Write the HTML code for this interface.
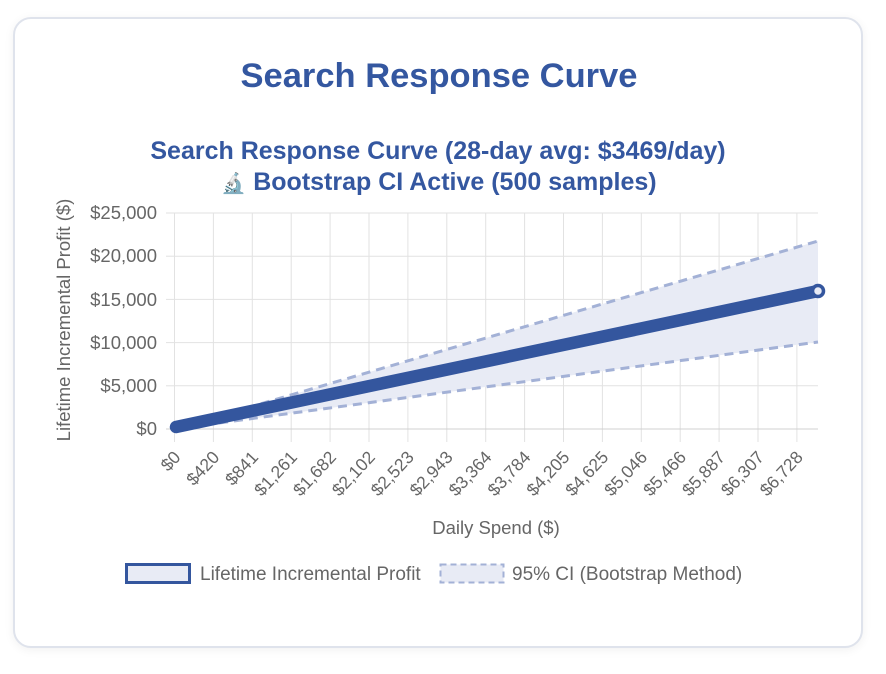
<!DOCTYPE html>
<html><head><meta charset="utf-8"><style>
html,body{margin:0;padding:0;background:#fff;width:886px;height:674px;overflow:hidden}
.card{position:absolute;left:13px;top:17px;width:846px;height:627px;border:2px solid #dfe3ec;border-radius:18px;box-shadow:0 2px 10px rgba(0,0,0,0.06);background:#fff}
svg{position:absolute;left:0;top:0}
text{font-family:"Liberation Sans",Arial,sans-serif}
</style></head><body>
<div class="card"></div>
<svg width="886" height="674" viewBox="0 0 886 674">
<text x="439" y="87" text-anchor="middle" font-size="34.5" font-weight="bold" fill="#3457a0">Search Response Curve</text>
<text x="438" y="159" text-anchor="middle" font-size="25" font-weight="bold" fill="#3457a0">Search Response Curve (28-day avg: $3469/day)</text>
<text x="439" y="190" text-anchor="middle" font-size="25" font-weight="bold" fill="#3457a0"><tspan font-family="'Noto Sans CJK JP',sans-serif" font-size="20">🔬</tspan>  Bootstrap CI Active (500 samples)</text>
<g stroke="#e2e2e2" stroke-width="1">
<line x1="174" y1="213" x2="818" y2="213"/><line x1="174" y1="256.2" x2="818" y2="256.2"/><line x1="174" y1="299.4" x2="818" y2="299.4"/><line x1="174" y1="342.6" x2="818" y2="342.6"/><line x1="174" y1="385.8" x2="818" y2="385.8"/>
<line x1="166" y1="213" x2="174" y2="213"/><line x1="166" y1="256.2" x2="174" y2="256.2"/><line x1="166" y1="299.4" x2="174" y2="299.4"/><line x1="166" y1="342.6" x2="174" y2="342.6"/><line x1="166" y1="385.8" x2="174" y2="385.8"/><line x1="166" y1="429" x2="174" y2="429"/>
</g>
<g stroke="#e2e2e2" stroke-width="1" id="vg"></g>
<line x1="166" y1="429" x2="818" y2="429" stroke="#d0d0d0"/>
<polygon points="174.5,429 818,241 818,342" fill="#e8ebf5"/>
<line x1="174.5" y1="429" x2="818" y2="241" stroke="#a3b1d6" stroke-width="3" stroke-dasharray="9,6"/>
<line x1="174.5" y1="429" x2="818" y2="342" stroke="#a3b1d6" stroke-width="3" stroke-dasharray="9,6"/>
<line x1="176" y1="427" x2="818" y2="291" stroke="#34569e" stroke-width="12.5" stroke-linecap="round"/>
<circle cx="818" cy="291" r="5.5" fill="#e8ebf5" stroke="#34569e" stroke-width="3.5"/>
<g font-size="18.5" fill="#666" text-anchor="end">
<text x="157" y="219">$25,000</text><text x="157" y="262">$20,000</text><text x="157" y="306">$15,000</text><text x="157" y="349">$10,000</text><text x="157" y="392">$5,000</text><text x="157" y="435">$0</text>
</g>
<g id="xl" font-size="17.5" fill="#666" text-anchor="end"></g>
<text transform="translate(70,320) rotate(-90)" text-anchor="middle" font-size="18.5" fill="#666">Lifetime Incremental Profit ($)</text>
<text x="496" y="534" text-anchor="middle" font-size="18.5" fill="#666">Daily Spend ($)</text>
<rect x="126.5" y="564.5" width="63" height="18" fill="#e8ebf5" stroke="#34569e" stroke-width="3"/>
<text x="200" y="580" font-size="19" fill="#666">Lifetime Incremental Profit</text>
<rect x="440.5" y="564.5" width="63" height="18" fill="#e8ebf5" stroke="#a3b1d6" stroke-width="2" stroke-dasharray="6,4"/>
<text x="512" y="580" font-size="19" fill="#666">95% CI (Bootstrap Method)</text>
</svg>
<script>
var labs=["$0","$420","$841","$1,261","$1,682","$2,102","$2,523","$2,943","$3,364","$3,784","$4,205","$4,625","$5,046","$5,466","$5,887","$6,307","$6,728"];
var vg=document.getElementById('vg'),xl=document.getElementById('xl'),ns="http://www.w3.org/2000/svg";
labs.forEach(function(l,i){var x=174.5+i*38.9;
var ln=document.createElementNS(ns,'line');ln.setAttribute('x1',x);ln.setAttribute('x2',x);ln.setAttribute('y1',213);ln.setAttribute('y2',442);vg.appendChild(ln);
var t=document.createElementNS(ns,'text');t.setAttribute('transform','translate('+(x+7)+',458) rotate(-47)');t.textContent=l;xl.appendChild(t);});
</script>
</body></html>
